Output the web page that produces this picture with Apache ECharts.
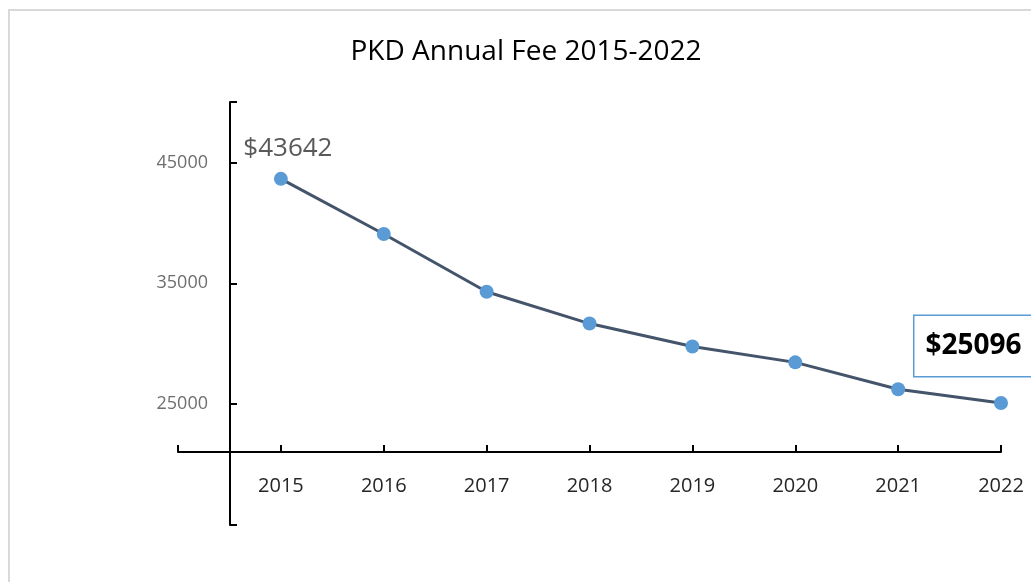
<!DOCTYPE html>
<html>
<head>
<meta charset="utf-8">
<script src="https://cdn.jsdelivr.net/npm/echarts@6/dist/echarts.min.js"></script>
<style>
html, body { margin: 0; padding: 0; background: #fff; }
#main { width: 1031px; height: 582px; }
</style>
</head>
<body>
<div id="main"></div>
<script>
var years = [2015, 2016, 2017, 2018, 2019, 2020, 2021, 2022];
var fees = [43642, 39074, 34300, 31667, 29774, 28457, 26235, 25096];
var yTicks = [15000, 25000, 35000, 45000];

var font = "'Open Sans', 'Noto Sans', sans-serif";

function buildData() {
    var res = [];
    for (var i = 0; i < years.length; i++) {
        var item = { value: [years[i], fees[i]] };
        if (i == 0) {
            item.label = {
                show: true,
                position: 'top',
                offset: [7, -5],
                formatter: '${@[1]}',
                fontSize: 26,
                color: '#595959',
                fontFamily: font
            };
        }
        if (i == years.length - 1) {
            item.label = {
                show: true,
                position: 'top',
                offset: [-27, -15],
                formatter: '${@[1]}',
                fontSize: 28,
                fontWeight: 'bold',
                color: '#000',
                fontFamily: font,
                backgroundColor: '#fff',
                borderColor: '#5b9bd5',
                borderWidth: 1.5,
                padding: [16, 12, 16, 11]
            };
        }
        res.push(item);
    }
    return res;
}

var myChart = echarts.init(document.getElementById('main'));

var option = {
    animation: false,
    title: {
        text: 'PKD Annual Fee 2015-2022',
        left: 521,
        textAlign: 'center',
        top: 33,
        textStyle: { fontSize: 28, fontWeight: 'normal', color: '#000', fontFamily: font }
    },
    graphic: [{
        type: 'rect',
        shape: { x: 9, y: 10, width: 1040, height: 600 },
        style: { fill: 'none', stroke: '#d9d9d9', lineWidth: 2 },
        silent: true
    }],
    grid: { left: 178, right: 30, top: 102, bottom: 57 },
    xAxis: {
        type: 'value',
        min: 2014,
        max: 2022,
        interval: 1,
        offset: -73,
        splitLine: { show: false },
        axisLine: { lineStyle: { color: '#000', width: 2 } },
        axisTick: { show: true, inside: true, length: 7, lineStyle: { color: '#000', width: 2 } },
        axisLabel: {
            margin: 24,
            fontSize: 20,
            color: '#262626',
            fontFamily: font,
            formatter: function(v) { return v < years[0] ? '' : String(v); }
        }
    },
    yAxis: {
        type: 'value',
        min: 15000,
        max: 50000,
        interval: 10000,
        offset: -52,
        splitLine: { show: false },
        axisLine: { show: true, lineStyle: { color: '#000', width: 2 } },
        axisTick: { show: true, inside: true, length: 7, lineStyle: { color: '#000', width: 2 } },
        axisLabel: {
            margin: 22,
            fontSize: 18,
            color: '#6e6e6e',
            fontFamily: font,
            formatter: function(v) { return yTicks.indexOf(v) > 0 ? String(v) : ''; }
        }
    },
    series: [{
        type: 'line',
        data: buildData(),
        symbol: 'circle',
        symbolSize: 14,
        lineStyle: { color: '#44546a', width: 3 },
        itemStyle: { color: '#5b9bd5' },
        z: 3
    }]
};

myChart.setOption(option);
</script>
</body>
</html>
